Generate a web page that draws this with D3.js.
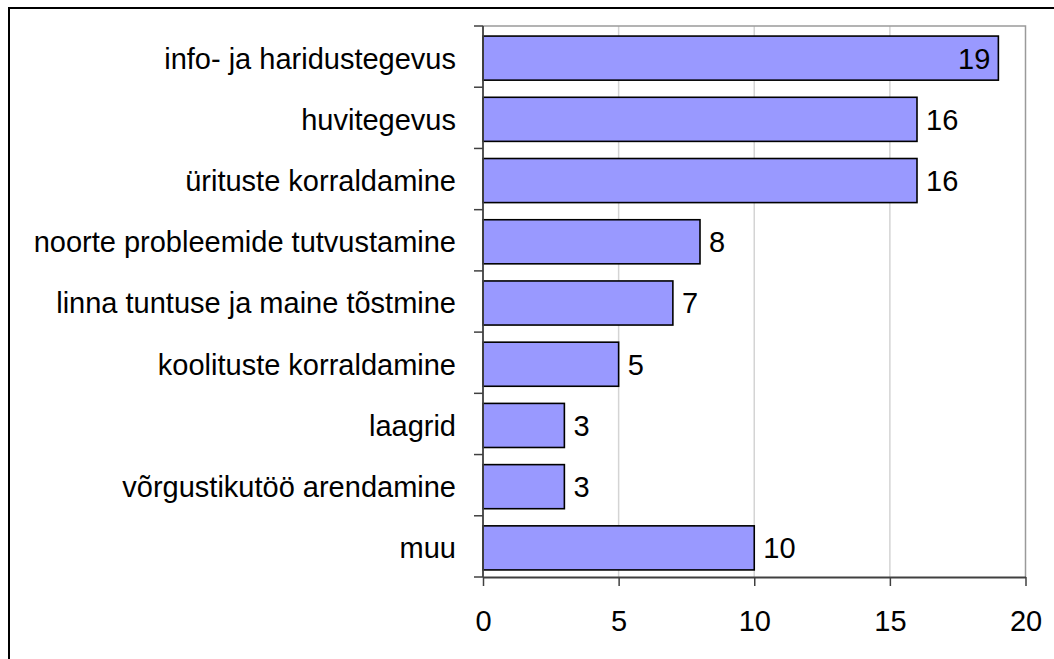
<!DOCTYPE html>
<html>
<head>
<meta charset="utf-8">
<script src="https://cdn.jsdelivr.net/npm/d3@7"></script>
<style>
  html, body { margin: 0; padding: 0; background: #fff; overflow: hidden; }
  svg { display: block; font-family: "Liberation Sans", Arial, sans-serif; }
</style>
</head>
<body>
<svg id="chart" width="1054" height="659"></svg>
<script>
// categories top -> bottom, and their counts
const categories = [
  "info- ja haridustegevus",
  "huvitegevus",
  "ürituste korraldamine",
  "noorte probleemide tutvustamine",
  "linna tuntuse ja maine tõstmine",
  "koolituste korraldamine",
  "laagrid",
  "võrgustikutöö arendamine",
  "muu"
];
const counts = [19, 16, 16, 8, 7, 5, 3, 3, 10];
const xTicks = [0, 5, 10, 15, 20];

const svg = d3.select("#chart");
const FONT = 29;

// outer frame (right/bottom edges fall outside the picture)
svg.append("rect")
  .attr("x", 9).attr("y", 8)
  .attr("width", 1100).attr("height", 700)
  .attr("fill", "none").attr("stroke", "#000").attr("stroke-width", 2);

const plot = { left: 483, top: 26, right: 1025.5, bottom: 577 };

const x = d3.scaleLinear().domain([0, 20]).range([plot.left, plot.right]);
const row = d3.scaleBand().domain(categories).range([plot.top, plot.bottom]).padding(0);
const bar = d3.scaleBand().domain(categories).range([plot.top + 1.5, plot.bottom + 1.5])
  .paddingInner(0.28).paddingOuter(0.14);

// gridlines
svg.append("g").selectAll("line")
  .data(xTicks.slice(1, -1))
  .join("line")
  .attr("x1", (d) => x(d)).attr("x2", (d) => x(d))
  .attr("y1", plot.top).attr("y2", plot.bottom)
  .attr("stroke", "#d4d4d4").attr("stroke-width", 1.5);

// top + right frame of plot area
svg.append("path")
  .attr("d", `M${plot.left},${plot.top}H${plot.right}V${plot.bottom}`)
  .attr("fill", "none").attr("stroke", "#9a9a9a").attr("stroke-width", 1.5);

// bars
svg.append("g").selectAll("rect")
  .data(categories)
  .join("rect")
  .attr("x", x(0))
  .attr("y", (d) => bar(d))
  .attr("width", (d, i) => x(counts[i]) - x(0))
  .attr("height", bar.bandwidth())
  .attr("fill", "#9999ff")
  .attr("stroke", "#000").attr("stroke-width", 1.6);

// value labels: inside for the longest bar, outside for the rest
svg.append("g").selectAll("text")
  .data(categories)
  .join("text")
  .attr("x", (d, i) => counts[i] >= 19 ? x(counts[i]) - 8 : x(counts[i]) + 9)
  .attr("y", (d) => bar(d) + bar.bandwidth() / 2)
  .attr("dy", "0.36em")
  .attr("text-anchor", (d, i) => counts[i] >= 19 ? "end" : "start")
  .attr("font-size", FONT)
  .attr("fill", "#000")
  .text((d, i) => counts[i]);

// y axis: labels (centred on the bars) + boundary ticks
const yAxis = svg.append("g")
  .attr("transform", `translate(${plot.left},1.5)`)
  .call(d3.axisLeft(row).tickSize(0).tickPadding(27));
yAxis.select(".domain").remove();
yAxis.selectAll("text").attr("font-size", FONT).attr("fill", "#000")
  .attr("font-family", "Liberation Sans, Arial, sans-serif").attr("dy", "0.36em");

const bounds = categories.map((d) => row(d)).concat([plot.bottom]);
svg.append("g").selectAll("line")
  .data(bounds)
  .join("line")
  .attr("x1", plot.left - 9).attr("x2", plot.left)
  .attr("y1", (d) => d).attr("y2", (d) => d)
  .attr("stroke", "#404040").attr("stroke-width", 1.5);
svg.append("line")
  .attr("x1", plot.left).attr("x2", plot.left)
  .attr("y1", plot.top).attr("y2", plot.bottom)
  .attr("stroke", "#404040").attr("stroke-width", 1.8);

// x axis
const xAxis = svg.append("g")
  .attr("transform", `translate(0,${plot.bottom})`)
  .call(d3.axisBottom(x).tickValues(xTicks).tickSize(9).tickPadding(24).tickSizeOuter(0));
xAxis.select(".domain").attr("stroke", "#404040").attr("stroke-width", 1.8);
xAxis.selectAll(".tick line").attr("stroke", "#404040").attr("stroke-width", 1.5);
xAxis.selectAll("text").attr("font-size", FONT).attr("fill", "#000")
  .attr("font-family", "Liberation Sans, Arial, sans-serif");
</script>
</body>
</html>
